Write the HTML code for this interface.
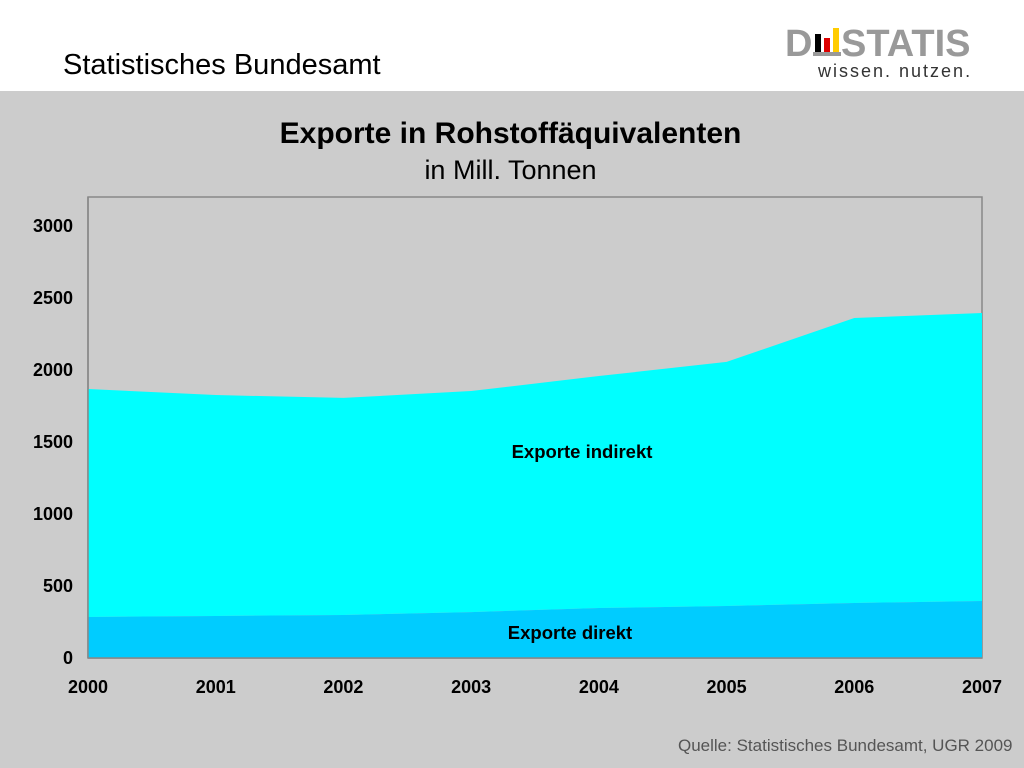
<!DOCTYPE html>
<html><head><meta charset="utf-8">
<style>
body{margin:0;width:1024px;height:768px;position:relative;overflow:hidden;font-family:"Liberation Sans",Arial,sans-serif;background:#fff}
.t{position:absolute;white-space:nowrap}
</style></head>
<body>
<div class="t" style="left:63px;top:49px;font-size:29px;color:#000">Statistisches Bundesamt</div>
<div style="position:absolute;left:785px;top:24px;width:210px;height:60px">
  <svg width="210" height="60">
    <text x="0" y="32" font-family="Liberation Sans" font-weight="bold" font-size="38" fill="#999">D</text>
    <rect x="30" y="10" width="6" height="18" fill="#000"/>
    <rect x="39" y="14" width="6" height="14" fill="#d00"/>
    <rect x="48" y="4" width="6" height="24" fill="#fc0"/>
    <rect x="28" y="28" width="28" height="4" fill="#999"/>
    <text x="56" y="32" font-family="Liberation Sans" font-weight="bold" font-size="38" fill="#999">STATIS</text>
    <text x="33" y="53" font-family="Liberation Sans" font-size="18" letter-spacing="2" fill="#333">wissen. nutzen.</text>
  </svg>
</div>
<div style="position:absolute;left:0;top:91px;width:1024px;height:677px;background:#cccccc"></div>
<div class="t" style="left:0;width:1021px;text-align:center;top:117px;font-size:30px;font-weight:bold">Exporte in Rohstoffäquivalenten</div>
<div class="t" style="left:0;width:1021px;text-align:center;top:155px;font-size:27px">in Mill. Tonnen</div>
<svg id="chart" width="1024" height="768" style="position:absolute;left:0;top:0"></svg>
<div class="t" style="left:678px;top:736px;font-size:17px;color:#555">Quelle: Statistisches Bundesamt, UGR 2009</div>
<script>
const years=["2000","2001","2002","2003","2004","2005","2006","2007"];
const direkt=[285,292,299,319,347,361,382,396];
const indirekt=[1583,1534,1507,1535,1611,1695,1979,2000];
const yTicks=[0,500,1000,1500,2000,2500,3000];
const NS="http://www.w3.org/2000/svg";
const svg=document.getElementById('chart');
const X0=88,X1=982,Y0=658,YTOP=197;
const xs=i=>X0+(X1-X0)*i/(years.length-1);
const ys=v=>Y0-v*432/3000;
function mk(t,a){const e=document.createElementNS(NS,t);for(const k in a)e.setAttribute(k,a[k]);svg.appendChild(e);return e;}
const frame=mk('rect',{x:X0,y:YTOP,width:X1-X0,height:Y0-YTOP,fill:'#cccccc',stroke:'#888','stroke-width':1.5});


const topPts=[],midPts=[],botPts=[];
years.forEach((y,i)=>{topPts.push(xs(i)+','+ys(direkt[i]+indirekt[i]));midPts.push(xs(i)+','+ys(direkt[i]));botPts.push(xs(i)+','+Y0);});
const a1=mk('polygon',{points:topPts.concat(midPts.slice().reverse()).join(' '),fill:'#00ffff'});


const a2=mk('polygon',{points:midPts.concat(botPts.slice().reverse()).join(' '),fill:'#00ccff'});


mk('line',{x1:X0,y1:YTOP,x2:X0,y2:Y0,stroke:'#888','stroke-width':1.5});
mk('line',{x1:X0,y1:Y0,x2:X1,y2:Y0,stroke:'#888','stroke-width':1.5});
yTicks.forEach(v=>{const t=mk('text',{x:73,y:ys(v)+6,'text-anchor':'end','font-size':18,'font-weight':'bold','font-family':'Liberation Sans'});t.textContent=v;

});
years.forEach((y,i)=>{const t=mk('text',{x:xs(i),y:693,'text-anchor':'middle','font-size':18,'font-weight':'bold','font-family':'Liberation Sans'});t.textContent=y;

});
const l1=mk('text',{x:582,y:458,'text-anchor':'middle','font-size':18.5,'font-weight':'bold','font-family':'Liberation Sans'});l1.textContent='Exporte indirekt';


const l2=mk('text',{x:570,y:639,'text-anchor':'middle','font-size':18.5,'font-weight':'bold','font-family':'Liberation Sans'});l2.textContent='Exporte direkt';


</script>
</body></html>
